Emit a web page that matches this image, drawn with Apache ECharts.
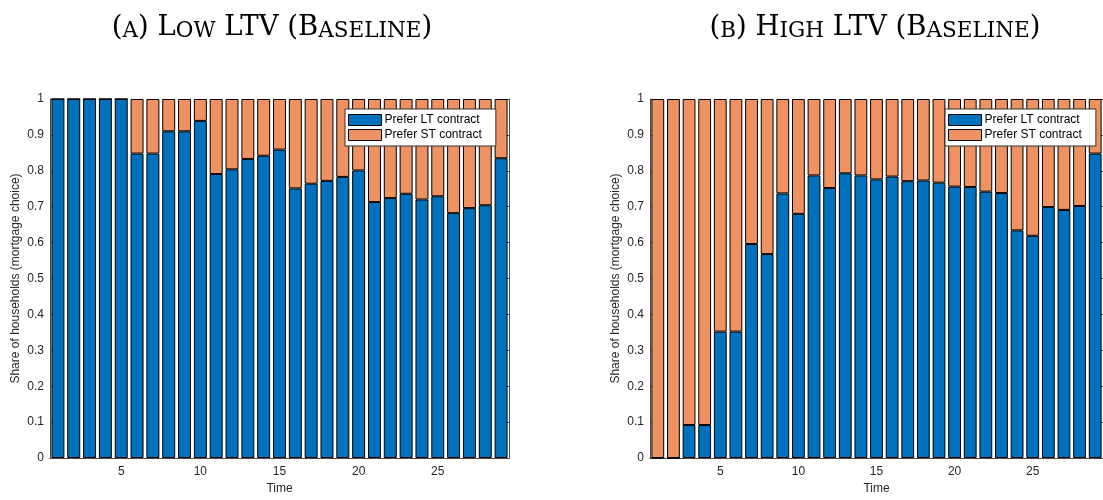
<!DOCTYPE html>
<html>
<head>
<meta charset="utf-8">
<script src="https://cdn.jsdelivr.net/npm/echarts@6/dist/echarts.min.js"></script>
<style>
  html, body { margin: 0; padding: 0; background: #fff; }
  #chart { width: 1103px; height: 500px; }
</style>
</head>
<body>
<div id="chart"></div>
<script>
// time periods 1..29
const periods = Array.from({length: 29}, (_, i) => String(i + 1));
const yTicks = [0, 0.1, 0.2, 0.3, 0.4, 0.5, 0.6, 0.7, 0.8, 0.9, 1];

// panel A: low LTV (baseline)
const ltLow = [1, 1, 1, 1, 1, 0.848, 0.848, 0.910, 0.910, 0.939, 0.791, 0.804, 0.833, 0.842, 0.859,
    0.751, 0.764, 0.772, 0.783, 0.801, 0.713, 0.724, 0.736, 0.720, 0.729, 0.682, 0.696, 0.704, 0.835];
const stLow = [0, 0, 0, 0, 0, 0.152, 0.152, 0.090, 0.090, 0.061, 0.209, 0.196, 0.167, 0.158, 0.141,
    0.249, 0.236, 0.228, 0.217, 0.199, 0.287, 0.276, 0.264, 0.280, 0.271, 0.318, 0.304, 0.296, 0.165];

// panel B: high LTV (baseline)
const ltHigh = [0, 0, 0.092, 0.092, 0.352, 0.352, 0.596, 0.568, 0.737, 0.680, 0.787, 0.752, 0.793, 0.787, 0.776,
    0.784, 0.771, 0.773, 0.767, 0.756, 0.755, 0.742, 0.738, 0.634, 0.619, 0.699, 0.691, 0.702, 0.848];
const stHigh = [1, 1, 0.908, 0.908, 0.648, 0.648, 0.404, 0.432, 0.263, 0.320, 0.213, 0.248, 0.207, 0.213, 0.224,
    0.216, 0.229, 0.227, 0.233, 0.244, 0.245, 0.258, 0.262, 0.366, 0.381, 0.301, 0.309, 0.298, 0.152];

const seriesNames = ['Prefer LT contract', 'Prefer ST contract'];
const blue = '#0072bd';
const orange = '#ed9260';
const axisColor = '#4a4a4a';
const font = 'Liberation Sans, Arial, sans-serif';

// grid positions for the two panels
const panels = [
    {left: 50, title: '{b|(}{s|A}{b|) L}{s|OW}{b| LTV (B}{s|ASELINE}{b|)}', titleX: 267, lt: ltLow, st: stLow},
    {left: 650, title: '{b|(}{s|B}{b|) H}{s|IGH}{b| LTV (B}{s|ASELINE}{b|)}', titleX: 870, lt: ltHigh, st: stHigh}
];

const showEvery5 = (idx) => (idx + 1) % 5 === 0;

// small caps title, faked with two font sizes
const titleRich = {
    b: {fontFamily: 'DejaVu Serif, serif', fontWeight: 'normal', fontSize: 27.5, color: '#000', verticalAlign: 'bottom', lineHeight: 36},
    s: {fontFamily: 'DejaVu Serif, serif', fontWeight: 'normal', fontSize: 21.5, color: '#000', verticalAlign: 'bottom', lineHeight: 36}
};

const option = {
    animation: false,
    backgroundColor: '#fff',
    color: [blue, orange],
    title: panels.map(p => ({
        text: p.title,
        left: p.titleX,
        top: 1,
        textAlign: 'center',
        textStyle: {fontWeight: 'normal', rich: titleRich}
    })),
    grid: panels.map(p => ({left: p.left, top: 99, width: 459, height: 363})),
    legend: panels.map(p => ({
        data: seriesNames,
        orient: 'vertical',
        left: p.left + 295,
        top: 109,
        itemWidth: 33,
        itemHeight: 11,
        itemGap: 3,
        padding: [5, 14, 5, 3],
        backgroundColor: '#fff',
        borderColor: '#333',
        borderWidth: 1,
        borderRadius: 0,
        icon: 'rect',
        itemStyle: {borderColor: '#000', borderWidth: 1},
        textStyle: {fontFamily: font, fontSize: 12, color: '#000', padding: [0, 0, 0, -2]}
    })),
    xAxis: [],
    yAxis: [],
    series: []
};

panels.forEach((p, i) => {
    // bottom axis with labels
    option.xAxis.push({
        type: 'category',
        gridIndex: i,
        data: periods,
        name: 'Time',
        nameLocation: 'middle',
        nameGap: 25,
        nameTextStyle: {fontFamily: font, fontSize: 12, color: '#262626'},
        axisLine: {lineStyle: {color: axisColor}},
        axisTick: {inside: true, alignWithLabel: true, interval: showEvery5, length: 5, lineStyle: {color: axisColor}},
        axisLabel: {interval: showEvery5, margin: 8, fontFamily: font, fontSize: 12, color: '#262626'}
    });
    // top axis (box)
    option.xAxis.push({
        type: 'category',
        gridIndex: i,
        position: 'top',
        data: periods,
        axisLine: {lineStyle: {color: axisColor}},
        axisTick: {inside: true, alignWithLabel: true, interval: showEvery5, length: 5, lineStyle: {color: axisColor}},
        axisLabel: {show: false}
    });
    option.yAxis.push({
        type: 'value',
        gridIndex: i,
        min: 0,
        max: 1,
        interval: 0.1,
        name: 'Share of households (mortgage choice)',
        nameLocation: 'middle',
        nameGap: 28,
        nameTextStyle: {fontFamily: font, fontSize: 12, color: '#262626'},
        splitLine: {show: false},
        axisLine: {show: true, lineStyle: {color: axisColor}},
        axisTick: {show: true, inside: true, length: 5, lineStyle: {color: axisColor}},
        axisLabel: {margin: 6, fontFamily: font, fontSize: 12, color: '#262626',
            formatter: v => yTicks.includes(Math.round(v * 10) / 10) ? String(Math.round(v * 10) / 10) : ''}
    });
    // right axis (box)
    option.yAxis.push({
        type: 'value',
        gridIndex: i,
        position: 'right',
        min: 0,
        max: 1,
        interval: 0.1,
        splitLine: {show: false},
        axisLine: {show: true, lineStyle: {color: axisColor}},
        axisTick: {show: true, inside: true, length: 5, lineStyle: {color: axisColor}},
        axisLabel: {show: false}
    });
    [p.lt, p.st].forEach((vals, k) => {
        option.series.push({
            name: seriesNames[k],
            type: 'bar',
            stack: 'share' + i,
            xAxisIndex: i * 2,
            yAxisIndex: i * 2,
            data: vals,
            barCategoryGap: '18%',
            itemStyle: {color: k === 0 ? blue : orange, borderColor: '#000', borderWidth: 1}
        });
    });
});

const chart = echarts.init(document.getElementById('chart'));
chart.setOption(option);
</script>
</body>
</html>
